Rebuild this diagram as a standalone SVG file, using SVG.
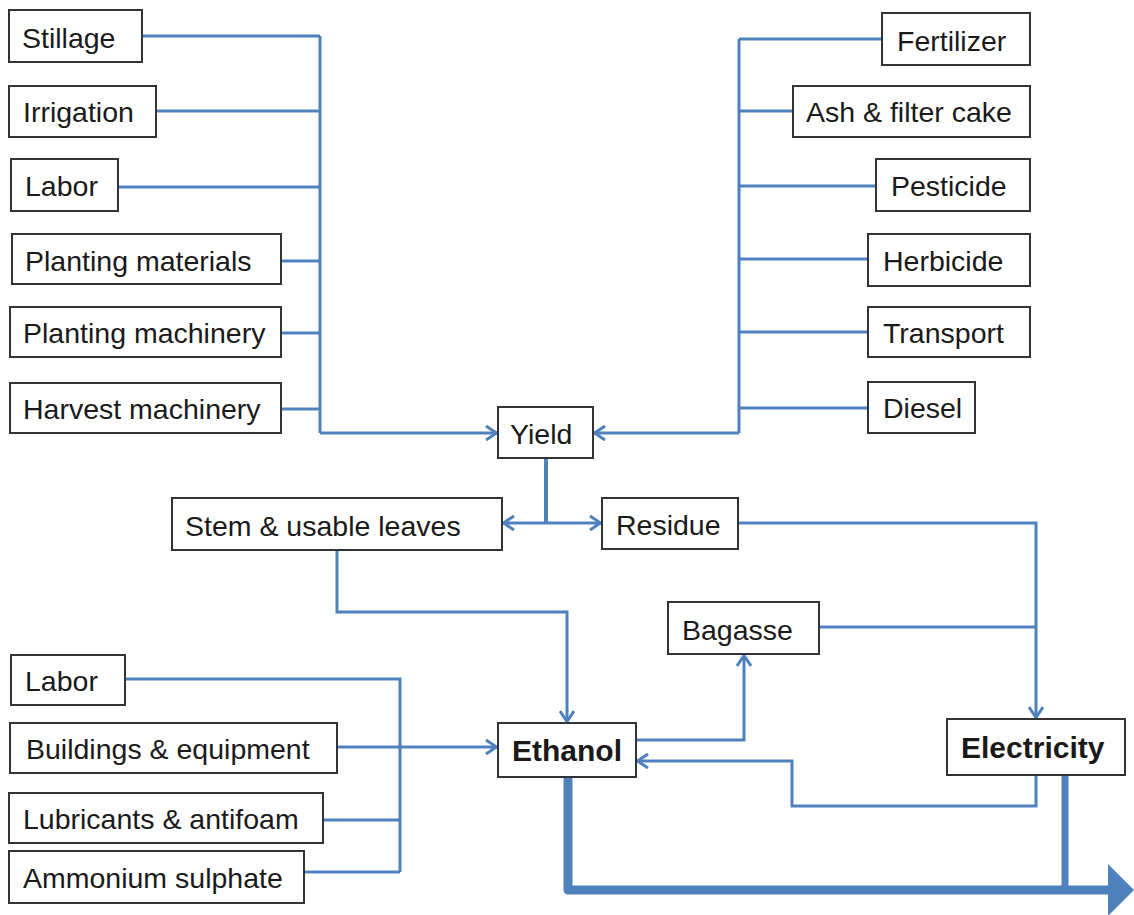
<svg xmlns="http://www.w3.org/2000/svg" width="1134" height="915" viewBox="0 0 1134 915">
<style>
.box{fill:#fff;stroke:#333;stroke-width:2}
.t{font-family:"Liberation Sans",Arial,sans-serif;font-size:28.5px;fill:#1a1a1a}
.b{font-weight:bold;font-size:30px}
.c{fill:none;stroke:#4F81BD;stroke-width:3;stroke-linejoin:miter}
.a{marker-end:url(#arr)}
.thick{fill:none;stroke:#4F81BD;stroke-width:9}
</style>
<defs>
<marker id="arr" viewBox="0 0 14 16" markerWidth="14" markerHeight="16" markerUnits="userSpaceOnUse" refX="13" refY="8" orient="auto-start-reverse">
<path d="M2,1 L12.5,8 L2,15" fill="none" stroke="#4F81BD" stroke-width="3"/>
</marker>
</defs>
<rect width="1134" height="915" fill="#fff"/>
<g id="connectors">
<path class="c" d="M142,36H320M156,111H320M118,187H320M281,261H320M281,333H320M281,409H320M320,36V433"/>
<path class="c a" d="M320,433H497"/>
<path class="c" d="M882,39H739M793,111H739M876,186H739M868,259H739M868,332H739M868,408H739M739,39V433"/>
<path class="c a" d="M739,433H594"/>
<path class="c" d="M546,458V523" style="stroke-width:4"/>
<path class="c a" d="M546,523H601"/>
<path class="c a" d="M546,523H503"/>
<path class="c a" d="M337,550V612H567V722"/>
<path class="c a" d="M738,523H1036V718"/>
<path class="c" d="M819,627H1036"/>
<path class="c a" d="M636,740H744V655"/>
<path class="c a" d="M1036,775V806H792V761H637"/>
<path class="c" d="M125,679H400V872M323,820H400M304,872H400"/>
<path class="c a" d="M337,747H497"/>
<path class="thick" d="M568,777V890H1110" style="stroke-linejoin:round"/>
<path class="thick" d="M1065,775V890" style="stroke-width:7"/>
<polygon points="1108,864 1134,890 1108,916" fill="#4F81BD"/>
</g>
<g id="stillage"><rect class="box" x="9" y="10" width="133" height="52"/><text class="t" x="22" y="48">Stillage</text></g>
<g id="irrigation"><rect class="box" x="9" y="86" width="147" height="51"/><text class="t" x="23" y="122">Irrigation</text></g>
<g id="labor1"><rect class="box" x="11" y="159" width="107" height="52"/><text class="t" x="25" y="196">Labor</text></g>
<g id="planting-materials"><rect class="box" x="12" y="234" width="269" height="50"/><text class="t" x="25" y="271">Planting materials</text></g>
<g id="planting-machinery"><rect class="box" x="10" y="307" width="271" height="50"/><text class="t" x="23" y="343">Planting machinery</text></g>
<g id="harvest-machinery"><rect class="box" x="10" y="383" width="271" height="50"/><text class="t" x="23" y="419">Harvest machinery</text></g>
<g id="fertilizer"><rect class="box" x="882" y="13" width="148" height="52"/><text class="t" x="897" y="51">Fertilizer</text></g>
<g id="ash"><rect class="box" x="793" y="86" width="237" height="51"/><text class="t" x="806" y="122">Ash &amp; filter cake</text></g>
<g id="pesticide"><rect class="box" x="876" y="159" width="154" height="52"/><text class="t" x="891" y="196">Pesticide</text></g>
<g id="herbicide"><rect class="box" x="868" y="234" width="162" height="52"/><text class="t" x="883" y="271">Herbicide</text></g>
<g id="transport"><rect class="box" x="868" y="307" width="162" height="50"/><text class="t" x="883" y="343">Transport</text></g>
<g id="diesel"><rect class="box" x="868" y="382" width="107" height="51"/><text class="t" x="883" y="418">Diesel</text></g>
<g id="yield"><rect class="box" x="498" y="407" width="95" height="51"/><text class="t" x="510" y="444">Yield</text></g>
<g id="stem"><rect class="box" x="172" y="498" width="330" height="52"/><text class="t" x="185" y="536">Stem &amp; usable leaves</text></g>
<g id="residue"><rect class="box" x="602" y="498" width="136" height="51"/><text class="t" x="616" y="535">Residue</text></g>
<g id="bagasse"><rect class="box" x="668" y="602" width="151" height="52"/><text class="t" x="682" y="640">Bagasse</text></g>
<g id="ethanol"><rect class="box" x="498" y="723" width="138" height="54"/><text class="t b" x="512" y="761">Ethanol</text></g>
<g id="electricity"><rect class="box" x="947" y="719" width="178" height="56"/><text class="t b" x="961" y="758">Electricity</text></g>
<g id="labor2"><rect class="box" x="11" y="655" width="114" height="50"/><text class="t" x="25" y="691">Labor</text></g>
<g id="buildings"><rect class="box" x="10" y="723" width="327" height="50"/><text class="t" x="26" y="759">Buildings &amp; equipment</text></g>
<g id="lubricants"><rect class="box" x="9" y="793" width="314" height="50"/><text class="t" x="23" y="829">Lubricants &amp; antifoam</text></g>
<g id="ammonium"><rect class="box" x="9" y="851" width="295" height="52"/><text class="t" x="23" y="888">Ammonium sulphate</text></g>
</svg>
